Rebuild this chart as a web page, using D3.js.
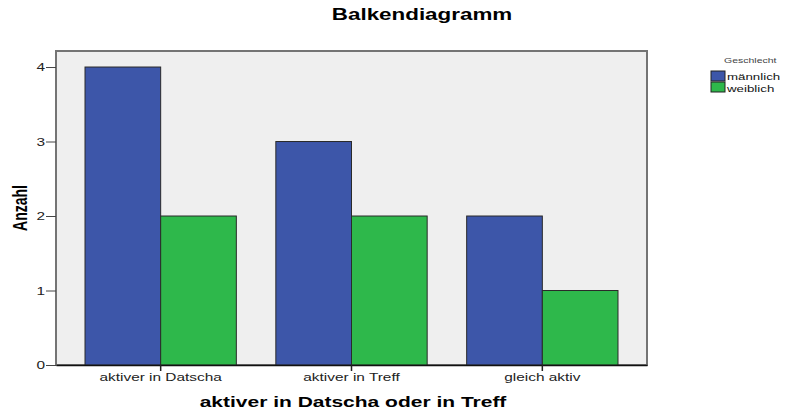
<!DOCTYPE html>
<html>
<head>
<meta charset="utf-8">
<script src="https://cdn.jsdelivr.net/npm/d3@7"></script>
<style>
  body { margin: 0; background: #fff; }
  text { font-family: "Liberation Sans", Arial, sans-serif; }
</style>
</head>
<body>
<div id="chart"></div>
<script>
// data
let categories = ["aktiver in Datscha", "aktiver in Treff", "gleich aktiv"];
let seriesNames = ["männlich", "weiblich"];
let maennlich = [4, 3, 2];
let weiblich = [2, 2, 1];
let yTicks = [0, 1, 2, 3, 4];
let colors = ["#3d56a9", "#2eb84b"];

let svgWidth = 790;
let svgHeight = 412;
let sx = 1.4; // text in the original is stretched horizontally

let plot = { left: 56, right: 647, top: 51, bottom: 365 };

let svg = d3.select("#chart")
    .append("svg")
    .attr("width", svgWidth)
    .attr("height", svgHeight);

// helper for stretched text
function addText(g, x, y, str, size, weight, anchor, fill) {
    return g.append("text")
        .attr("transform", `translate(${x},${y}) scale(${sx},1)`)
        .attr("text-anchor", anchor || "middle")
        .attr("font-size", size)
        .attr("font-weight", weight || "normal")
        .attr("fill", fill || "#000")
        .text(str);
}

// scales
let x0 = d3.scaleBand()
    .domain(categories)
    .range([plot.left, plot.right])
    .paddingInner(0.207)
    .paddingOuter(0.152);

let x1 = d3.scaleBand()
    .domain(seriesNames)
    .range([0, x0.bandwidth()]);

let y = d3.scaleLinear()
    .domain([0, 4.215])
    .range([plot.bottom, plot.top]);

// plot background
svg.append("rect")
    .attr("x", plot.left)
    .attr("y", plot.top)
    .attr("width", plot.right - plot.left)
    .attr("height", plot.bottom - plot.top)
    .attr("fill", "#efefef")
    .attr("stroke", "#747474")
    .attr("stroke-width", 2);

// bars
let rows = categories.map((c, i) => ({ cat: c, values: [maennlich[i], weiblich[i]] }));

let groups = svg.selectAll(".grp")
    .data(rows)
    .enter()
    .append("g")
    .attr("class", "grp")
    .attr("transform", d => `translate(${x0(d.cat)},0)`);

groups.selectAll("rect")
    .data(d => d.values.map((v, j) => ({ key: seriesNames[j], value: v, j: j })))
    .enter()
    .append("rect")
    .attr("x", d => x1(d.key))
    .attr("y", d => y(d.value))
    .attr("width", x1.bandwidth())
    .attr("height", d => y(0) - y(d.value))
    .attr("fill", d => colors[d.j])
    .attr("stroke", "#2a2a2a")
    .attr("stroke-width", 1);

// y axis
let yAxis = svg.append("g")
    .attr("transform", `translate(${plot.left},0)`)
    .call(d3.axisLeft(y).tickValues(yTicks).tickSize(10).tickPadding(2).tickFormat(d3.format("d")));
yAxis.select(".domain").remove();
yAxis.selectAll("line").attr("stroke", "#444");
yAxis.selectAll("text")
    .attr("font-family", "Liberation Sans, Arial, sans-serif")
    .attr("font-size", 11)
    .attr("fill", "#222")
    .attr("x", -11 / sx)
    .attr("transform", `scale(${sx},1)`);

// x axis
let xAxis = svg.append("g")
    .attr("transform", `translate(0,${plot.bottom})`)
    .call(d3.axisBottom(x0).tickSize(6).tickSizeOuter(0).tickFormat(""));
xAxis.select(".domain")
    .attr("stroke", "#111")
    .attr("stroke-width", 1.5);
xAxis.selectAll("line").attr("stroke", "#222").attr("stroke-width", 1.5);

categories.forEach(c => {
    addText(svg, x0(c) + x0.bandwidth() / 2, 381, c, 11, "normal", "middle", "#222");
});

// titles
addText(svg, 422, 20, "Balkendiagramm", 16, "bold");
addText(svg, 353, 407, "aktiver in Datscha oder in Treff", 15, "bold");

svg.append("text")
    .attr("transform", "translate(27,208) scale(1.45,1) rotate(-90)")
    .attr("text-anchor", "middle")
    .attr("font-size", 14)
    .attr("font-weight", "bold")
    .text("Anzahl");

// legend
let legend = svg.append("g");
addText(legend, 724, 63, "Geschlecht", 7.5, "normal", "start", "#444");
seriesNames.forEach((s, j) => {
    legend.append("rect")
        .attr("x", 711)
        .attr("y", 71 + j * 11)
        .attr("width", 14)
        .attr("height", 10)
        .attr("fill", colors[j])
        .attr("stroke", "#222")
        .attr("stroke-width", 1);
    addText(legend, 727, 80 + j * 12, s, 9.5, "normal", "start", "#111");
});
</script>
</body>
</html>
